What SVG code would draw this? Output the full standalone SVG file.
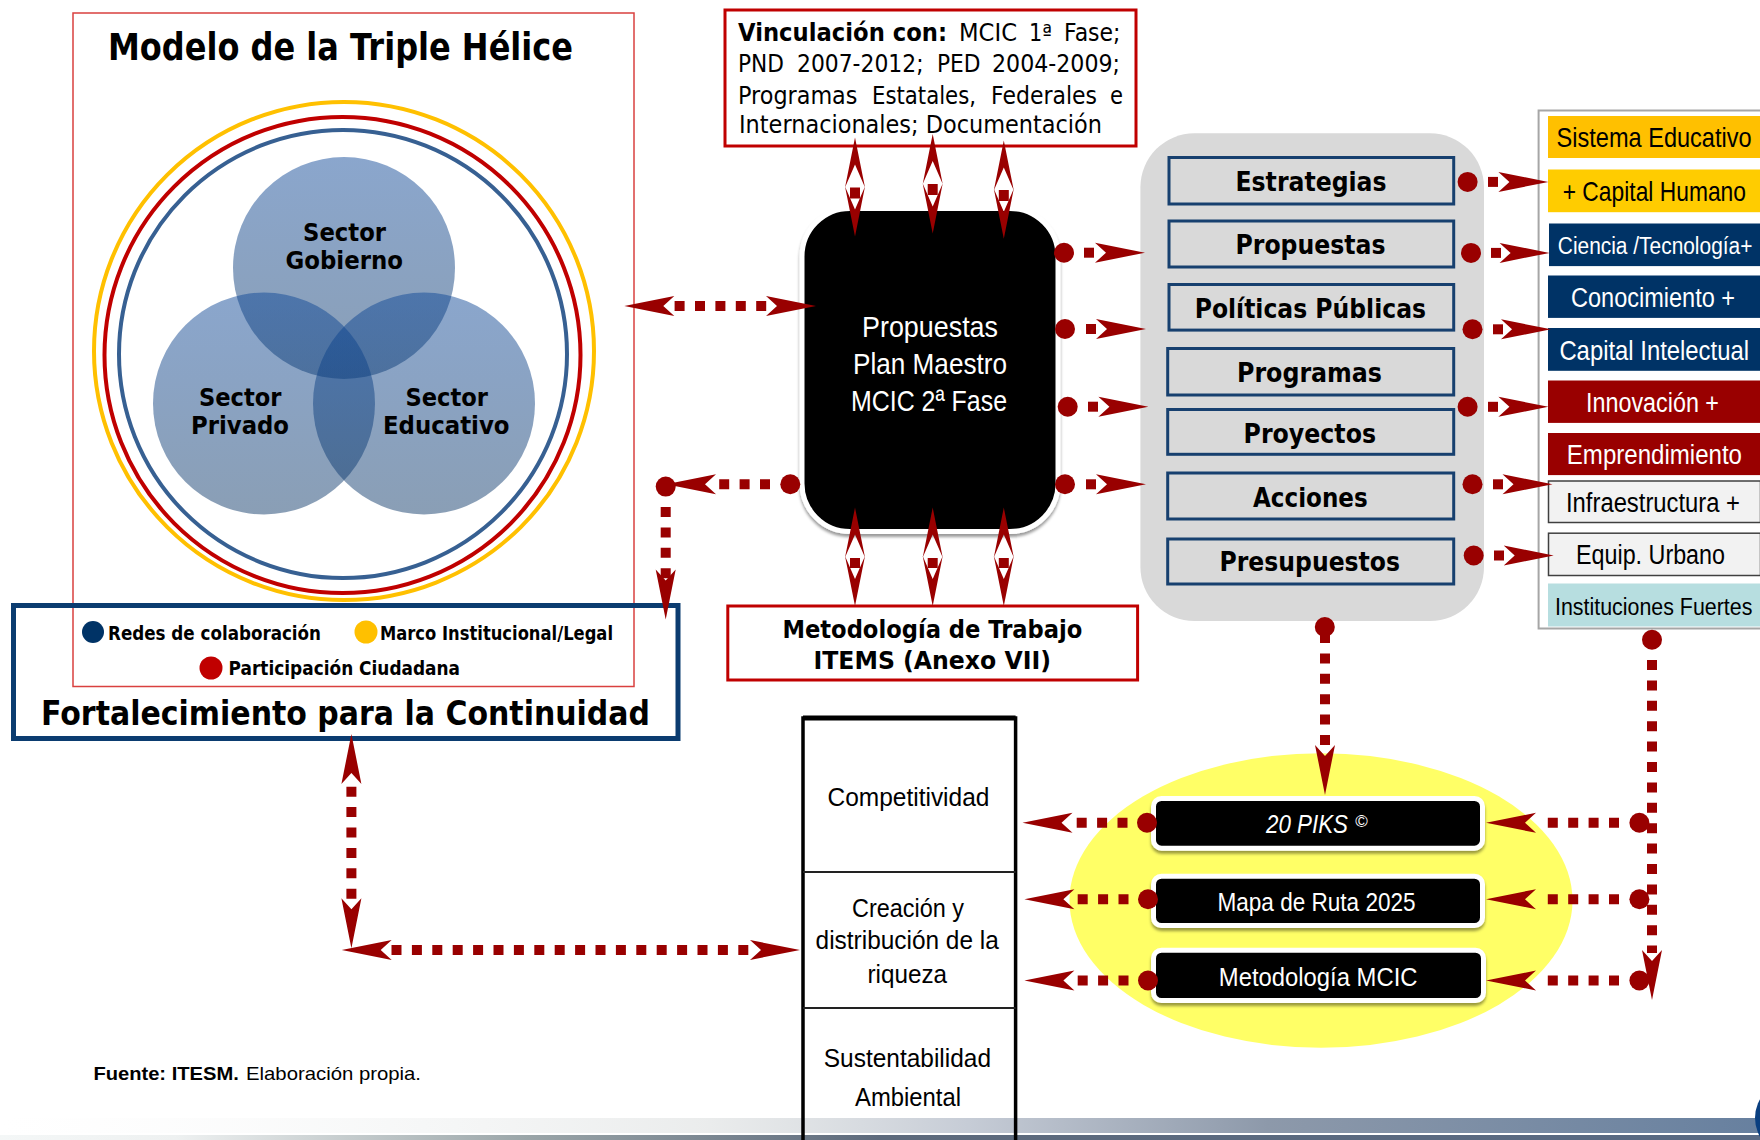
<svg xmlns="http://www.w3.org/2000/svg" width="1760" height="1140" viewBox="0 0 1760 1140">
<style>
text{fill:#000}
.dv{font-family:"DejaVu Sans",sans-serif;font-weight:700}
.dr{font-family:"DejaVu Sans",sans-serif}
.ls{font-family:"Liberation Sans",Arial,sans-serif}
.w{fill:#fff}
.d{fill:none;stroke:#990000;stroke-width:10;stroke-dasharray:10 10.4}
.dot{fill:#990000}
.hd{fill:#990000}
.venn{fill:url(#vg);fill-opacity:.48}
.item{fill:#d9d9d9;stroke:#17406f;stroke-width:3}
.redbox{fill:#fff;stroke:#c00000;stroke-width:3}
.blk{fill:#000;stroke:#fff;stroke-width:5;filter:url(#sh)}
</style>
<defs>
<linearGradient id="vg" x1="0" y1="0" x2="0" y2="1"><stop offset="0" stop-color="#0b4596"/><stop offset="1" stop-color="#0a3565"/></linearGradient>
<linearGradient id="st1" x1="0" x2="1" y1="0" y2="0"><stop offset="0" stop-color="#f4f6f6" stop-opacity="0"/><stop offset=".4" stop-color="#dde0e0" stop-opacity=".6"/><stop offset=".55" stop-color="#c6ccd6"/><stop offset=".72" stop-color="#8d99aa"/><stop offset="1" stop-color="#67809f"/></linearGradient>
<linearGradient id="st2" x1="0" x2="1" y1="0" y2="0"><stop offset="0" stop-color="#f4f7f7"/><stop offset=".1" stop-color="#eef1f1"/><stop offset=".3" stop-color="#9aa5a8"/><stop offset=".5" stop-color="#5d6a7c"/><stop offset="1" stop-color="#586a84"/></linearGradient>
<filter id="sh" x="-10%" y="-20%" width="120%" height="150%"><feDropShadow dx="0" dy="3" stdDeviation="1.5" flood-color="#000" flood-opacity=".4"/></filter>
<polygon id="h" class="hd" points="0,0 -50,-10 -39,0 -50,10"/>
<polygon id="hv" class="hd" points="0,0 -50,-10 -27,0 -50,10"/>
</defs>

<g id="footer-strip">
<rect x="0" y="1118" width="1760" height="15" fill="url(#st1)"/>
<rect x="0" y="1135" width="1760" height="5" fill="url(#st2)"/>
<circle cx="1793" cy="1118" r="38" fill="#0a3f80"/>
</g>

<g id="triple-helix">
<rect x="73" y="13" width="561" height="673.5" fill="#fff" stroke="#d9403f" stroke-width="1.5"/>
<text class="dv" x="108" y="60" font-size="37" textLength="465" lengthAdjust="spacingAndGlyphs">Modelo de la Triple Hélice</text>
<ellipse cx="344" cy="351" rx="250" ry="249" fill="none" stroke="#ffc000" stroke-width="4"/>
<ellipse cx="342.5" cy="355" rx="238" ry="238" fill="none" stroke="#c00000" stroke-width="4"/>
<ellipse cx="343" cy="354" rx="224" ry="224" fill="none" stroke="#376092" stroke-width="4"/>
<circle class="venn" cx="344" cy="268" r="111"/>
<circle class="venn" cx="264" cy="403.5" r="111"/>
<circle class="venn" cx="424" cy="403.5" r="111"/>
<text class="dv" x="303" y="241" font-size="25" textLength="83" lengthAdjust="spacingAndGlyphs">Sector</text>
<text class="dv" x="285.5" y="269" font-size="25" textLength="117.5" lengthAdjust="spacingAndGlyphs">Gobierno</text>
<text class="dv" x="199" y="406" font-size="25" textLength="82.5" lengthAdjust="spacingAndGlyphs">Sector</text>
<text class="dv" x="191" y="434" font-size="25" textLength="98" lengthAdjust="spacingAndGlyphs">Privado</text>
<text class="dv" x="405.5" y="406" font-size="25" textLength="82.5" lengthAdjust="spacingAndGlyphs">Sector</text>
<text class="dv" x="383" y="434" font-size="25" textLength="126.5" lengthAdjust="spacingAndGlyphs">Educativo</text>
</g>

<g id="continuidad">
<rect x="13.5" y="605.5" width="664.5" height="133" fill="none" stroke="#0b3c70" stroke-width="5"/>
<circle cx="93" cy="632" r="11" fill="#003366"/>
<text class="dv" x="108" y="640" font-size="20" textLength="213" lengthAdjust="spacingAndGlyphs">Redes de colaboración</text>
<circle cx="366" cy="632" r="11.5" fill="#ffc000"/>
<text class="dv" x="380" y="640" font-size="20" textLength="233" lengthAdjust="spacingAndGlyphs">Marco Institucional/Legal</text>
<circle cx="211" cy="668" r="11.5" fill="#c00000"/>
<text class="dv" x="228.6" y="675" font-size="20" textLength="231.4" lengthAdjust="spacingAndGlyphs">Participación Ciudadana</text>
<text class="dv" x="41" y="725" font-size="33" textLength="609" lengthAdjust="spacingAndGlyphs">Fortalecimiento para la Continuidad</text>
</g>

<g id="vinculacion">
<rect class="redbox" x="725" y="10" width="411" height="136"/>
<text class="dr" font-size="24"><tspan class="dv" x="738" y="41" textLength="209" lengthAdjust="spacingAndGlyphs">Vinculación con:</tspan> <tspan x="959" y="41" textLength="58" lengthAdjust="spacingAndGlyphs">MCIC</tspan> <tspan x="1029" y="41" textLength="23" lengthAdjust="spacingAndGlyphs">1ª</tspan> <tspan x="1064" y="41" textLength="56.5" lengthAdjust="spacingAndGlyphs">Fase;</tspan></text>
<text class="dr" font-size="24"><tspan x="738" y="72.3" textLength="46" lengthAdjust="spacingAndGlyphs">PND</tspan> <tspan x="797" y="72.3" textLength="126.5" lengthAdjust="spacingAndGlyphs">2007-2012;</tspan> <tspan x="937" y="72.3" textLength="43.6" lengthAdjust="spacingAndGlyphs">PED</tspan> <tspan x="992" y="72.3" textLength="128" lengthAdjust="spacingAndGlyphs">2004-2009;</tspan></text>
<text class="dr" font-size="24"><tspan x="738" y="103.5" textLength="119.4" lengthAdjust="spacingAndGlyphs">Programas</tspan> <tspan x="872" y="103.5" textLength="104" lengthAdjust="spacingAndGlyphs">Estatales,</tspan> <tspan x="991" y="103.5" textLength="106" lengthAdjust="spacingAndGlyphs">Federales</tspan> <tspan x="1110" y="103.5" textLength="13" lengthAdjust="spacingAndGlyphs">e</tspan></text>
<text class="dr" x="739" y="133" font-size="24" textLength="363" lengthAdjust="spacingAndGlyphs">Internacionales; Documentación</text>
</g>

<g id="propuestas-plan">
<rect class="blk" x="802" y="208.5" width="256" height="323" rx="48" ry="48"/>
<text class="ls w" x="862" y="337" font-size="30" textLength="136" lengthAdjust="spacingAndGlyphs">Propuestas</text>
<text class="ls w" x="853" y="374" font-size="30" textLength="154" lengthAdjust="spacingAndGlyphs">Plan Maestro</text>
<text class="ls w" x="851" y="411" font-size="30" textLength="156" lengthAdjust="spacingAndGlyphs">MCIC 2ª Fase</text>
</g>

<g id="metodologia-items">
<rect class="redbox" x="727.8" y="606" width="409.8" height="74"/>
<text class="dv" x="782.4" y="637.5" font-size="24" textLength="300" lengthAdjust="spacingAndGlyphs">Metodología de Trabajo</text>
<text class="dv" x="813.5" y="668.7" font-size="24" textLength="237.5" lengthAdjust="spacingAndGlyphs">ITEMS (Anexo VII)</text>
</g>

<g id="panel-gris"><rect x="1140.4" y="133.3" width="343.6" height="487.7" rx="54" ry="54" fill="#d9d9d9"/></g>
<g id="estrategias"><rect class="item" x="1169" y="157.5" width="284.7" height="46.5"/><text class="dv" x="1235.5" y="190.5" font-size="26" textLength="151" lengthAdjust="spacingAndGlyphs">Estrategias</text></g>
<g id="propuestas"><rect class="item" x="1169" y="221" width="284.7" height="46"/><text class="dv" x="1235.5" y="254" font-size="26" textLength="150" lengthAdjust="spacingAndGlyphs">Propuestas</text></g>
<g id="politicas"><rect class="item" x="1169" y="284.5" width="284.7" height="45.6"/><text class="dv" x="1194.7" y="317.5" font-size="26" textLength="231.3" lengthAdjust="spacingAndGlyphs">Políticas Públicas</text></g>
<g id="programas"><rect class="item" x="1167.7" y="348.5" width="286" height="46.5"/><text class="dv" x="1237" y="381.5" font-size="26" textLength="145" lengthAdjust="spacingAndGlyphs">Programas</text></g>
<g id="proyectos"><rect class="item" x="1167.7" y="409.5" width="286" height="44.8"/><text class="dv" x="1243.6" y="442.5" font-size="26" textLength="132.4" lengthAdjust="spacingAndGlyphs">Proyectos</text></g>
<g id="acciones"><rect class="item" x="1167.7" y="473" width="286" height="46"/><text class="dv" x="1253" y="506.5" font-size="26" textLength="114.7" lengthAdjust="spacingAndGlyphs">Acciones</text></g>
<g id="presupuestos"><rect class="item" x="1167.7" y="539" width="286" height="45"/><text class="dv" x="1219.5" y="571" font-size="26" textLength="180.5" lengthAdjust="spacingAndGlyphs">Presupuestos</text></g>

<g id="panel-derecho">
<rect x="1538.6" y="110.5" width="221.4" height="518" fill="#fff"/>
<path d="M1760,110.5H1538.6V628.5H1760" fill="none" stroke="#a6a6a6" stroke-width="2"/>
<g id="sistema-educativo"><rect x="1548" y="116" width="212" height="42" fill="#ffc000"/><text class="ls" transform="translate(1556.6,147) scale(1,1.12)" font-size="24" textLength="195" lengthAdjust="spacingAndGlyphs">Sistema Educativo</text></g>
<g id="capital-humano"><rect x="1548" y="169.5" width="212" height="42.7" fill="#ffcc00"/><text class="ls" transform="translate(1562.7,200.5) scale(1,1.12)" font-size="24" textLength="183.3" lengthAdjust="spacingAndGlyphs">+ Capital Humano</text></g>
<g id="ciencia"><rect x="1549" y="223.5" width="211" height="42.6" fill="#003366"/><text class="ls w" transform="translate(1557.8,254) scale(1,1.12)" font-size="22" textLength="194.6" lengthAdjust="spacingAndGlyphs">Ciencia /Tecnología+</text></g>
<g id="conocimiento"><rect x="1548" y="275.5" width="212" height="42.4" fill="#003366"/><text class="ls w" x="1571" y="306.5" font-size="27" textLength="164" lengthAdjust="spacingAndGlyphs">Conocimiento +</text></g>
<g id="capital-intelectual"><rect x="1548" y="328" width="212" height="42.8" fill="#003366"/><text class="ls w" transform="translate(1559.4,359.5) scale(1,1.12)" font-size="24" textLength="189.6" lengthAdjust="spacingAndGlyphs">Capital Intelectual</text></g>
<g id="innovacion"><rect x="1548" y="380.5" width="212" height="42.4" fill="#990000"/><text class="ls w" x="1586" y="411.5" font-size="27" textLength="133" lengthAdjust="spacingAndGlyphs">Innovación +</text></g>
<g id="emprendimiento"><rect x="1548" y="433" width="212" height="42.1" fill="#990000"/><text class="ls w" x="1566.8" y="463.5" font-size="27" textLength="175.2" lengthAdjust="spacingAndGlyphs">Emprendimiento</text></g>
<g id="infraestructura"><rect x="1548.5" y="481" width="212" height="41.5" fill="#f2f2f2" stroke="#404040" stroke-width="1.5"/><text class="ls" x="1566" y="511.5" font-size="27" textLength="174" lengthAdjust="spacingAndGlyphs">Infraestructura +</text></g>
<g id="equip-urbano"><rect x="1548.5" y="533.2" width="212" height="42.3" fill="#f2f2f2" stroke="#404040" stroke-width="1.5"/><text class="ls" x="1576" y="563.5" font-size="27" textLength="149" lengthAdjust="spacingAndGlyphs">Equip. Urbano</text></g>
<g id="instituciones"><rect x="1548" y="583.5" width="212" height="43" fill="#b7dee0"/><text class="ls" transform="translate(1555,615) scale(1,1.12)" font-size="22" textLength="197.4" lengthAdjust="spacingAndGlyphs">Instituciones Fuertes</text></g>
</g>

<g id="tabla">
<path d="M803,1140V718H1015.6V1140" fill="none" stroke="#000" stroke-width="3.5"/>
<path d="M803,718H1015.6" stroke="#000" stroke-width="5"/>
<path d="M803,872H1015.6M803,1008H1015.6" stroke="#222" stroke-width="2"/>
<text class="ls" x="827.5" y="805.5" font-size="26.5" textLength="161.9" lengthAdjust="spacingAndGlyphs">Competitividad</text>
<text class="ls" x="852" y="917" font-size="26.5" textLength="112" lengthAdjust="spacingAndGlyphs">Creación y</text>
<text class="ls" x="815.6" y="949" font-size="26.5" textLength="183.2" lengthAdjust="spacingAndGlyphs">distribución de la</text>
<text class="ls" x="867.5" y="982.5" font-size="26.5" textLength="79.5" lengthAdjust="spacingAndGlyphs">riqueza</text>
<text class="ls" x="823.8" y="1067" font-size="26.5" textLength="167.2" lengthAdjust="spacingAndGlyphs">Sustentabilidad</text>
<text class="ls" x="855" y="1105.5" font-size="26.5" textLength="106" lengthAdjust="spacingAndGlyphs">Ambiental</text>
</g>

<g id="ovalo"><ellipse cx="1321" cy="900.5" rx="251.5" ry="147.3" fill="#ffff66"/></g>
<g id="piks"><rect class="blk" x="1153.5" y="798.5" width="329" height="49.7" rx="8"/><text class="ls w" font-size="25" font-style="italic"><tspan x="1266" y="833" textLength="82" lengthAdjust="spacingAndGlyphs">20 PIKS</tspan> <tspan x="1355" y="827" font-size="17">©</tspan></text></g>
<g id="mapa"><rect class="blk" x="1153.5" y="876.2" width="329" height="49.3" rx="8"/><text class="ls w" x="1217.5" y="911" font-size="25" textLength="198.1" lengthAdjust="spacingAndGlyphs">Mapa de Ruta 2025</text></g>
<g id="metodologia-mcic"><rect class="blk" x="1153.5" y="950.2" width="330" height="50.3" rx="8"/><text class="ls w" x="1218.8" y="985.5" font-size="25" textLength="198.7" lengthAdjust="spacingAndGlyphs">Metodología MCIC</text></g>

<g id="fuente"><text class="ls" font-size="19"><tspan font-weight="700" x="93.4" y="1080" textLength="145.4" lengthAdjust="spacingAndGlyphs">Fuente: ITESM.</tspan> <tspan x="246" y="1080" textLength="175" lengthAdjust="spacingAndGlyphs">Elaboración propia.</tspan></text></g>

<g id="connectors">
<path class="d" d="M674.6,306H766.4"/><use href="#h" transform="translate(624.3,306) rotate(180)"/><use href="#h" transform="translate(816,306)"/>
<g id="dbl-top">
<use href="#hv" transform="translate(855,137.5) rotate(-90)"/><use href="#hv" transform="translate(855,236.6) rotate(90)"/><rect class="dot" x="850" y="187.5" width="10" height="11"/>
<use href="#hv" transform="translate(932.7,134) rotate(-90)"/><use href="#hv" transform="translate(932.7,233.5) rotate(90)"/><rect class="dot" x="927.7" y="184" width="10" height="11"/>
<use href="#hv" transform="translate(1003.8,140.6) rotate(-90)"/><use href="#hv" transform="translate(1003.8,238.8) rotate(90)"/><rect class="dot" x="998.8" y="190" width="10" height="11"/>
</g>
<g id="dbl-bottom">
<use href="#hv" transform="translate(855,507.6) rotate(-90)"/><use href="#hv" transform="translate(855,606) rotate(90)"/><rect class="dot" x="850" y="558" width="10" height="10"/>
<use href="#hv" transform="translate(932.7,507.6) rotate(-90)"/><use href="#hv" transform="translate(932.7,606) rotate(90)"/><rect class="dot" x="927.7" y="558" width="10" height="10"/>
<use href="#hv" transform="translate(1003.8,507.6) rotate(-90)"/><use href="#hv" transform="translate(1003.8,606) rotate(90)"/><rect class="dot" x="998.8" y="558" width="10" height="10"/>
</g>
<circle class="dot" cx="1064" cy="252.7" r="10"/><path class="d" d="M1084,252.7H1094"/><use href="#h" transform="translate(1145,252.7)"/>
<circle class="dot" cx="1065" cy="329" r="10"/><path class="d" d="M1086,329H1096"/><use href="#h" transform="translate(1146,329)"/>
<circle class="dot" cx="1067.7" cy="406.7" r="10"/><path class="d" d="M1088,406.7H1098"/><use href="#h" transform="translate(1148.4,406.7)"/>
<circle class="dot" cx="1065" cy="484.3" r="10"/><path class="d" d="M1086,484.3H1096"/><use href="#h" transform="translate(1146,484.3)"/>
<circle class="dot" cx="790.3" cy="484.3" r="10"/><path class="d" d="M770,484.3H719"/><use href="#h" transform="translate(666,484.3) rotate(180)"/>
<circle class="dot" cx="665.7" cy="486.6" r="10"/><path class="d" d="M665.7,507V579"/><use href="#h" transform="translate(665.7,619.6) rotate(90)"/>
<circle class="dot" cx="1467.6" cy="181.9" r="10"/><path class="d" d="M1488,181.9H1498"/><use href="#h" transform="translate(1548.4,181.9)"/>
<circle class="dot" cx="1471" cy="252.9" r="10"/><path class="d" d="M1491,252.9H1501"/><use href="#h" transform="translate(1549.6,252.9)"/>
<circle class="dot" cx="1472.5" cy="329.3" r="10"/><path class="d" d="M1493,329.3H1503"/><use href="#h" transform="translate(1551,329.3)"/>
<circle class="dot" cx="1467.6" cy="406.8" r="10"/><path class="d" d="M1488,406.8H1498"/><use href="#h" transform="translate(1548.4,406.8)"/>
<circle class="dot" cx="1472.5" cy="484.3" r="10"/><path class="d" d="M1493,484.3H1503"/><use href="#h" transform="translate(1552.5,484.3)"/>
<circle class="dot" cx="1473.7" cy="555.5" r="10"/><path class="d" d="M1494,555.5H1504"/><use href="#h" transform="translate(1553.7,555.5)"/>
<circle class="dot" cx="1324.8" cy="627" r="10"/><path class="d" d="M1325,633V745"/><use href="#h" transform="translate(1325,795) rotate(90)"/>
<circle class="dot" cx="1652" cy="639.8" r="10"/><path class="d" d="M1652,660V953"/><use href="#h" transform="translate(1652,1000) rotate(90)"/>
<circle class="dot" cx="1147" cy="822.8" r="10"/><path class="d" d="M1127.5,822.8H1076"/><use href="#h" transform="translate(1022.5,822.8) rotate(180)"/>
<circle class="dot" cx="1148" cy="899.2" r="10"/><path class="d" d="M1128.5,899.2H1077"/><use href="#h" transform="translate(1024.4,899.2) rotate(180)"/>
<circle class="dot" cx="1148" cy="980.5" r="10"/><path class="d" d="M1128.5,980.5H1077"/><use href="#h" transform="translate(1024.4,980.5) rotate(180)"/>
<circle class="dot" cx="1639.4" cy="822.8" r="10"/><path class="d" d="M1619,822.8H1538"/><use href="#h" transform="translate(1486,822.8) rotate(180)"/>
<circle class="dot" cx="1639.4" cy="899.2" r="10"/><path class="d" d="M1619,899.2H1538"/><use href="#h" transform="translate(1486,899.2) rotate(180)"/>
<circle class="dot" cx="1639.4" cy="980.5" r="10"/><path class="d" d="M1619,980.5H1538"/><use href="#h" transform="translate(1486,980.5) rotate(180)"/>
<path class="d" d="M351.4,786.7V899"/><use href="#h" transform="translate(351.4,734) rotate(-90)"/><use href="#h" transform="translate(351.4,948.3) rotate(90)"/>
<path class="d" d="M391.5,950H748.6"/><use href="#h" transform="translate(341.7,950) rotate(180)"/><use href="#h" transform="translate(800,950)"/>
</g>
</svg>
